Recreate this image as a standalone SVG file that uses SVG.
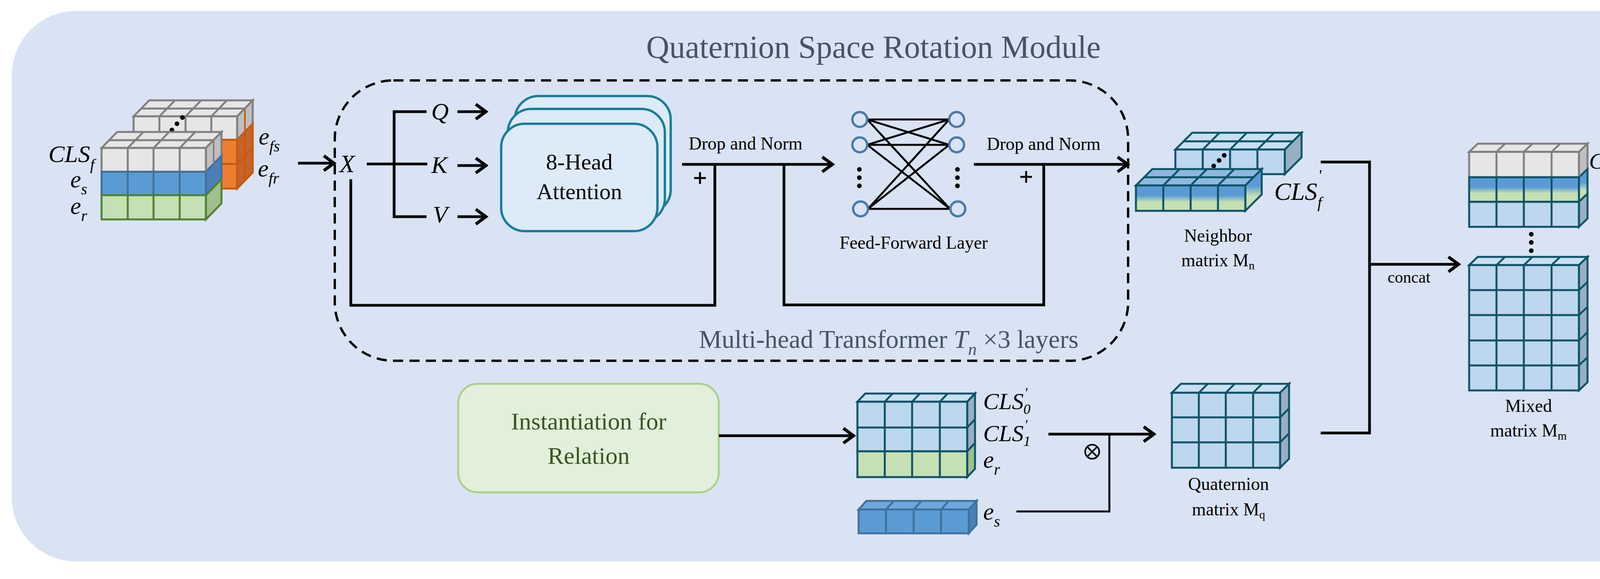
<svg xmlns="http://www.w3.org/2000/svg" width="4318" height="1483" viewBox="0 0 4318 1483">
<defs>
<style>
.t{font-family:"Liberation Serif",serif;fill:#000}
.i{font-style:italic}
.ln{fill:none;stroke:#000;stroke-width:7}
.th{fill:none;stroke:#000;stroke-width:5}
.g{fill:#e6e6e6;stroke:#808080;stroke-width:5}
.gs{fill:#bfbfbf;stroke:#808080;stroke-width:5}
.b{fill:#5b9bd5;stroke:#41719c;stroke-width:5}
.bs{fill:#4a80b8;stroke:#41719c;stroke-width:5}
.gr{fill:#c5e0b4;stroke:#538135;stroke-width:5}
.grs{fill:#9fbf8c;stroke:#538135;stroke-width:5}
.o{fill:#ed7d31;stroke:#c55a11;stroke-width:5}
.os{fill:#c8642a;stroke:#c55a11;stroke-width:5}
.lb{fill:#bdd7ee;stroke:#0e5368;stroke-width:5}
.lbt{fill:#c9dff2;stroke:#0e5368;stroke-width:5}
.lbs{fill:#98afc4;stroke:#0e5368;stroke-width:5}
.cl{stroke:#0e5368;stroke-width:5}
.att{fill:#ddeaf7;stroke:#1a7d9b;stroke-width:6}
.nd{fill:none;stroke:#4a7aa8;stroke-width:6}
</style>
<marker id="ar" markerUnits="userSpaceOnUse" markerWidth="50" markerHeight="50" viewBox="0 0 50 50" refX="44" refY="25" orient="auto">
<path d="M18,6 L44,25 L18,44" fill="none" stroke="#000" stroke-width="8"/>
</marker>
<linearGradient id="bgm" x1="0" y1="0" x2="0" y2="1">
<stop offset="0" stop-color="#5b9bd5"/><stop offset="0.4" stop-color="#5b9bd5"/><stop offset="0.65" stop-color="#c5e0b4"/><stop offset="1" stop-color="#c5e0b4"/>
</linearGradient>
</defs>

<g id="background">
<rect x="30" y="28" width="4233" height="1410" rx="165" fill="#dae3f3"/>
<text class="t" x="2236" y="148" font-size="82" text-anchor="middle" style="fill:#44546a">Quaternion Space Rotation Module</text>
</g>

<g id="transformer-frame">
<rect x="857" y="206" width="2031" height="718" rx="150" fill="none" stroke="#000" stroke-width="6" stroke-dasharray="26,16"/>
<text class="t" x="2761" y="891" font-size="66" text-anchor="end" style="fill:#44546a">Multi-head Transformer <tspan class="i">T</tspan><tspan class="i" font-size="44" dy="18">n</tspan><tspan dy="-18"> ×3 layers</tspan></text>
</g>

<g id="input-embeddings">
<polygon class="g" points="342,298 382,257 647,257 607,298"/>
<line class="cl" style="stroke:#808080" x1="362" y1="278" x2="627" y2="278"/>
<path style="stroke:#808080;stroke-width:5" d="M408,298 L448,257 M475,298 L515,257 M541,298 L581,257"/>
<polygon class="gs" points="607,298 647,257 647,317 607,358"/>
<polygon class="os" points="607,358 647,317 647,442 607,483"/>
<line style="stroke:#c55a11;stroke-width:5" x1="607" y1="420" x2="647" y2="379"/>
<line style="stroke:#c55a11;stroke-width:4" x1="627" y1="278" x2="627" y2="463"/>
<rect class="g" x="342" y="298" width="265" height="60"/>
<path style="stroke:#808080;stroke-width:5" d="M408,298 V358 M475,298 V358 M541,298 V358"/>
<rect class="o" x="342" y="358" width="265" height="62"/>
<rect class="o" x="342" y="420" width="265" height="63"/>
<circle cx="467" cy="301" r="6"/><circle cx="453" cy="317" r="6"/><circle cx="440" cy="333" r="6"/>
<polygon class="g" points="260,379 300,338 567,338 527,379"/>
<line style="stroke:#808080;stroke-width:5" x1="280" y1="359" x2="547" y2="359"/>
<path style="stroke:#808080;stroke-width:5" d="M327,379 L367,338 M393,379 L433,338 M460,379 L500,338"/>
<polygon class="gs" points="527,379 567,338 567,399 527,440"/>
<polygon class="bs" points="527,440 567,399 567,459 527,500"/>
<polygon class="grs" points="527,500 567,459 567,521 527,562"/>
<line style="stroke:#808080;stroke-width:4" x1="547" y1="359" x2="547" y2="420"/>
<rect class="g" x="260" y="379" width="267" height="61"/>
<path style="stroke:#808080;stroke-width:5" d="M327,379 V440 M393,379 V440 M460,379 V440"/>
<rect class="b" x="260" y="440" width="267" height="60"/>
<path style="stroke:#41719c;stroke-width:5" d="M327,440 V500 M393,440 V500 M460,440 V500"/>
<rect class="gr" x="260" y="500" width="267" height="62"/>
<path style="stroke:#538135;stroke-width:5" d="M327,500 V562 M393,500 V562 M460,500 V562"/>
<text class="t i" x="124" y="415" font-size="62">CLS<tspan font-size="40" dy="20">f</tspan></text>
<text class="t i" x="180" y="480" font-size="62">e<tspan font-size="40" dy="18">s</tspan></text>
<text class="t i" x="180" y="548" font-size="62">e<tspan font-size="40" dy="18">r</tspan></text>
<text class="t i" x="662" y="370" font-size="62">e<tspan font-size="40" dy="18">fs</tspan></text>
<text class="t i" x="660" y="452" font-size="62">e<tspan font-size="40" dy="18">fr</tspan></text>
</g>

<g id="attention">
<rect class="att" x="1318" y="246" width="399" height="300" rx="60"/>
<rect class="att" x="1300" y="279" width="402" height="290" rx="60"/>
<rect class="att" x="1283" y="317" width="400" height="275" rx="60"/>
<text class="t" x="1483" y="434" font-size="58" text-anchor="middle">8-Head</text>
<text class="t" x="1483" y="510" font-size="58" text-anchor="middle">Attention</text>
</g>

<g id="qkv-labels">
<text class="t i" x="869" y="441" font-size="64">X</text>
<text class="t i" x="1104" y="306" font-size="62">Q</text>
<text class="t i" x="1104" y="443" font-size="62">K</text>
<text class="t i" x="1108" y="570" font-size="62">V</text>
</g>

<g id="feed-forward">
<path class="th" d="M2220,306 L2430,306 M2220,306 L2430,371 M2220,306 L2432,535 M2220,371 L2430,306 M2220,371 L2430,371 M2220,371 L2432,535 M2222,535 L2430,306 M2222,535 L2430,371 M2222,535 L2432,535"/>
<circle class="nd" cx="2201" cy="306" r="19"/><circle class="nd" cx="2201" cy="371" r="19"/><circle class="nd" cx="2203" cy="535" r="19"/>
<circle class="nd" cx="2449" cy="306" r="19"/><circle class="nd" cx="2449" cy="371" r="19"/><circle class="nd" cx="2452" cy="535" r="19"/>
<circle cx="2200" cy="434" r="6"/><circle cx="2200" cy="455" r="6"/><circle cx="2200" cy="476" r="6"/>
<circle cx="2451" cy="434" r="6"/><circle cx="2451" cy="455" r="6"/><circle cx="2451" cy="476" r="6"/>
<text class="t" x="2339" y="637" font-size="46" text-anchor="middle">Feed-Forward Layer</text>
</g>

<g id="neighbor-matrix">
<polygon class="lbt" points="3009,383 3052,340 3332,340 3289,383"/>
<line class="cl" x1="3030" y1="362" x2="3311" y2="362"/>
<path class="cl" d="M3079,383 L3122,340 M3149,383 L3192,340 M3219,383 L3262,340"/>
<polygon class="lbs" points="3289,383 3332,340 3332,403 3289,446"/>
<rect class="lb" x="3009" y="383" width="280" height="63"/>
<path class="cl" d="M3079,383 V446 M3149,383 V446 M3219,383 V446"/>
<circle cx="3134" cy="398" r="6"/><circle cx="3121" cy="411" r="6"/><circle cx="3107" cy="425" r="6"/>
<polygon class="lbt" points="2908,475 2950,433 3230,433 3188,475" style="fill:#8fb8e0"/>
<line class="cl" x1="2929" y1="454" x2="3209" y2="454"/>
<path class="cl" d="M2978,475 L3020,433 M3048,475 L3090,433 M3118,475 L3160,433"/>
<polygon points="3188,475 3230,433 3230,498 3188,540" fill="url(#bgm)" stroke="#0e5368" stroke-width="5"/>
<rect x="2908" y="475" width="280" height="65" fill="url(#bgm)" stroke="#0e5368" stroke-width="5"/>
<path class="cl" d="M2978,475 V540 M3048,475 V540 M3118,475 V540"/>
<text class="t i" x="3262" y="512" font-size="64">CLS<tspan font-size="40" dx="2" dy="-50">'</tspan><tspan font-size="40" dx="-10" dy="70">f</tspan></text>
<text class="t" x="3118" y="619" font-size="46" text-anchor="middle">Neighbor</text>
<text class="t" x="3118" y="682" font-size="46" text-anchor="middle">matrix M<tspan font-size="30" dy="8">n</tspan></text>
</g>

<g id="instantiation">
<rect x="1173" y="983" width="667" height="278" rx="50" fill="#e2efda" stroke="#a9d18e" stroke-width="5"/>
<text class="t" x="1507" y="1100" font-size="62" text-anchor="middle" style="fill:#375623">Instantiation for</text>
<text class="t" x="1507" y="1188" font-size="62" text-anchor="middle" style="fill:#375623">Relation</text>
</g>

<g id="relation-block">
<polygon class="lbt" points="2195,1029 2215,1008 2496,1008 2476,1029"/>
<path class="cl" d="M2265,1029 L2285,1008 M2335,1029 L2355,1008 M2406,1029 L2426,1008"/>
<polygon class="lbs" points="2476,1029 2496,1008 2496,1135 2476,1156"/>
<polygon class="grs" points="2476,1156 2496,1135 2496,1201 2476,1222" style="stroke:#0e5368"/>
<line class="cl" x1="2476" y1="1095" x2="2496" y2="1074"/>
<rect class="lb" x="2195" y="1029" width="281" height="127"/>
<line class="cl" x1="2195" y1="1095" x2="2476" y2="1095"/>
<rect class="gr" x="2195" y="1156" width="281" height="66" style="stroke:#0e5368"/>
<path class="cl" d="M2265,1029 V1222 M2335,1029 V1222 M2406,1029 V1222"/>
<text class="t i" x="2517" y="1048" font-size="60">CLS<tspan font-size="36" dx="2" dy="-30">'</tspan><tspan font-size="36" dx="-10" dy="42">0</tspan></text>
<text class="t i" x="2517" y="1130" font-size="60">CLS<tspan font-size="36" dx="2" dy="-30">'</tspan><tspan font-size="36" dx="-10" dy="42">1</tspan></text>
<text class="t i" x="2517" y="1198" font-size="62">e<tspan font-size="40" dy="18">r</tspan></text>
</g>

<g id="es-block">
<polygon class="b" points="2198,1305 2218,1283 2500,1283 2480,1305" style="fill:#6ea8de"/>
<path style="stroke:#41719c;stroke-width:5" d="M2268,1305 L2288,1283 M2339,1305 L2359,1283 M2409,1305 L2429,1283"/>
<polygon class="bs" points="2480,1305 2500,1283 2500,1344 2480,1366"/>
<rect class="b" x="2198" y="1305" width="282" height="61"/>
<path style="stroke:#41719c;stroke-width:5" d="M2268,1305 V1366 M2339,1305 V1366 M2409,1305 V1366"/>
<text class="t i" x="2517" y="1331" font-size="62">e<tspan font-size="40" dy="18">s</tspan></text>
</g>

<g id="quaternion-matrix">
<polygon class="lbt" points="3000,1006 3023,983 3300,983 3277,1006"/>
<path class="cl" d="M3069,1006 L3092,983 M3138,1006 L3161,983 M3208,1006 L3231,983"/>
<polygon class="lbs" points="3277,1006 3300,983 3300,1175 3277,1198"/>
<path class="cl" d="M3277,1069 L3300,1046 M3277,1133 L3300,1110"/>
<rect class="lb" x="3000" y="1006" width="277" height="192"/>
<path class="cl" d="M3069,1006 V1198 M3138,1006 V1198 M3208,1006 V1198 M3000,1069 H3277 M3000,1133 H3277"/>
<text class="t" x="3145" y="1255" font-size="46" text-anchor="middle">Quaternion</text>
<text class="t" x="3145" y="1320" font-size="46" text-anchor="middle">matrix M<tspan font-size="30" dy="8">q</tspan></text>
</g>

<g id="mixed-matrix">
<polygon class="g" points="3761,389 3783,368 4064,368 4042,389"/>
<path style="stroke:#808080;stroke-width:5" d="M3831,389 L3853,368 M3901,389 L3923,368 M3972,389 L3994,368"/>
<polygon class="gs" points="4042,389 4064,368 4064,433 4042,454"/>
<polygon points="4042,454 4064,433 4064,496 4042,517" fill="url(#bgm)" stroke="#0e5368" stroke-width="5"/>
<polygon class="lbs" points="4042,517 4064,496 4064,560 4042,581"/>
<rect class="g" x="3761" y="389" width="281" height="65"/>
<path style="stroke:#808080;stroke-width:5" d="M3831,389 V454 M3901,389 V454 M3972,389 V454"/>
<rect x="3761" y="454" width="281" height="63" fill="url(#bgm)" stroke="#0e5368" stroke-width="5"/>
<rect class="lb" x="3761" y="517" width="281" height="64"/>
<path class="cl" d="M3831,454 V581 M3901,454 V581 M3972,454 V581"/>
<circle cx="3920" cy="600" r="6"/><circle cx="3920" cy="621" r="6"/><circle cx="3920" cy="642" r="6"/>
<polygon class="lbt" points="3761,679 3783,658 4064,658 4042,679"/>
<path class="cl" d="M3831,679 L3853,658 M3901,679 L3923,658 M3972,679 L3994,658"/>
<polygon class="lbs" points="4042,679 4064,658 4064,979 4042,1000"/>
<path class="cl" d="M4042,743 L4064,722 M4042,807 L4064,786 M4042,872 L4064,851 M4042,936 L4064,915"/>
<rect class="lb" x="3761" y="679" width="281" height="321"/>
<path class="cl" d="M3831,679 V1000 M3901,679 V1000 M3972,679 V1000 M3761,743 H4042 M3761,807 H4042 M3761,872 H4042 M3761,936 H4042"/>
<text class="t i" x="4068" y="432" font-size="58">CLS<tspan font-size="36" dy="17">out</tspan></text>
<text class="t" x="3913" y="1055" font-size="46" text-anchor="middle">Mixed</text>
<text class="t" x="3913" y="1118" font-size="46" text-anchor="middle">matrix M<tspan font-size="30" dy="8">m</tspan></text>
</g>

<g id="connectors">
<line class="ln" x1="763" y1="418" x2="855" y2="418" marker-end="url(#ar)"/>
<path class="ln" d="M939,420 H1094 M1092,286 H1009 V555 H1092"/>
<line class="ln" x1="1171" y1="286" x2="1244" y2="286" marker-end="url(#ar)"/>
<line class="ln" x1="1171" y1="424" x2="1244" y2="424" marker-end="url(#ar)"/>
<line class="ln" x1="1171" y1="555" x2="1244" y2="555" marker-end="url(#ar)"/>
<line class="ln" x1="1746" y1="421" x2="2131" y2="421" marker-end="url(#ar)"/>
<path class="ln" d="M898,459 V782 H1830 V421"/>
<path class="ln" d="M2007,421 V781 H2672 V421"/>
<line class="ln" x1="2493" y1="421" x2="2887" y2="421" marker-end="url(#ar)"/>
<path class="th" d="M1777,456 H1807 M1792,441 V471 M2612,453 H2642 M2627,438 V468"/>
<text class="t" x="1763" y="383" font-size="46">Drop and Norm</text>
<text class="t" x="2526" y="384" font-size="46">Drop and Norm</text>
<line class="ln" x1="1840" y1="1116" x2="2185" y2="1116" marker-end="url(#ar)"/>
<line class="ln" x1="2684" y1="1112" x2="2954" y2="1112" marker-end="url(#ar)"/>
<path class="th" d="M2602,1310 H2840 V1112"/>
<circle cx="2796" cy="1157" r="18" fill="none" stroke="#000" stroke-width="4"/>
<path d="M2783,1144 L2809,1170 M2809,1144 L2783,1170" stroke="#000" stroke-width="4"/>
<path class="ln" d="M3381,415 H3506 V1109 H3381"/>
<line class="ln" x1="3506" y1="677" x2="3734" y2="677" marker-end="url(#ar)"/>
<text class="t" x="3607" y="724" font-size="42" text-anchor="middle">concat</text>
</g>
</svg>
